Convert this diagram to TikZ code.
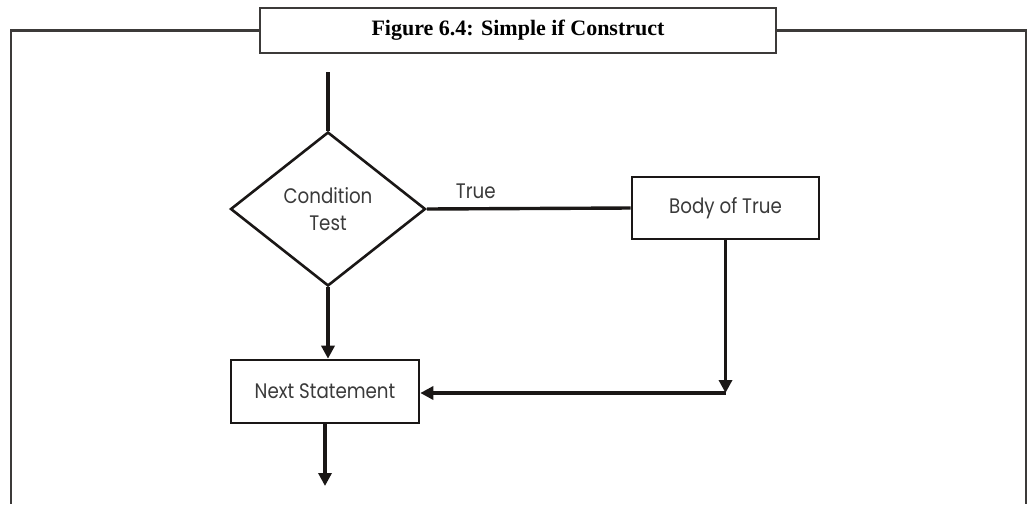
\documentclass[tikz,border=0pt]{standalone}
\usepackage{fontspec}
\setmainfont{Liberation Serif}
\newfontfamily\flowfont[FakeStretch=0.87]{Poppins}
\usetikzlibrary{shapes.geometric,arrows.meta}
\definecolor{ink}{HTML}{1A1716}
\definecolor{textgray}{HTML}{3A3A3A}
\begin{document}
\begin{tikzpicture}[x=1pt,y=-1pt,
  frameline/.style={line width=2.6pt, draw=ink!85},
  shapeline/.style={line width=2.6pt, draw=ink},
  flowline/.style={line width=3.4pt, draw=ink},
  flowarrow/.style={flowline, -{Triangle[length=13pt,width=13pt]}},
  flowtext/.style={font=\flowfont\fontsize{21}{27}\selectfont, text=textgray},
  procbox/.style={shapeline, rectangle, inner sep=0pt, flowtext},
  decision/.style={shapeline, diamond, inner sep=0pt, flowtext, align=center}
]
\useasboundingbox (0,0) rectangle (1028,504);

% title box and open frame
\node[frameline, rectangle, inner sep=0pt, minimum width=516pt, minimum height=45pt,
      font=\bfseries\fontsize{22}{26}\selectfont] (title) at (518,30.5) {Figure 6.4: Simple if Construct};
\draw[frameline] (title.west) -- (11,30.5) -- (11,504);
\draw[frameline] (title.east) -- (1026,30.5) -- (1026,504);

% flowchart nodes
\node[decision, minimum width=195pt, minimum height=154pt] (cond) at (328,209) {Condition\\Test};
\node[procbox, minimum width=187pt, minimum height=62pt] (body) at (725.5,208) {Body of True};
\node[procbox, minimum width=188pt, minimum height=63pt] (next) at (325,391.5) {Next Statement};

\coordinate (start) at (328,72);
\coordinate (bend) at (725.5,393);
\coordinate (finish) at (325,486);

% connectors
\draw[flowline] (start) -- (cond.north);
\draw[flowline] (cond.east) -- node[pos=0.24, above=5pt, flowtext] {True} (body.west);
\draw[flowarrow] (cond.south) -- (cond.south |- next.north);
\draw[flowarrow] (body.south) -- (bend);
\draw[flowarrow] (bend) -- (next.east |- bend);
\draw[flowarrow] (next.south) -- (finish);
\end{tikzpicture}
\end{document}
